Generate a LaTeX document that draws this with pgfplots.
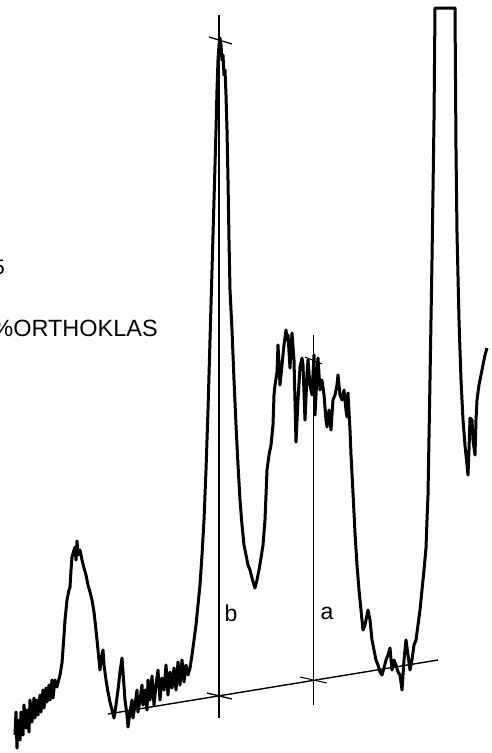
\documentclass[border=0pt]{standalone}
\usepackage{pgfplots}
\pgfplotsset{compat=1.18}
\usepackage{fontspec}
\setmainfont{Liberation Sans}
\begin{document}
\begin{tikzpicture}
\begin{axis}[scale only axis, width=492pt, height=753pt,
  xmin=0, xmax=492, ymin=0, ymax=753, y dir=reverse,
  hide axis, clip=false]
% trace
\addplot[black, line width=3pt, line join=round] coordinates {
(15,735)(16,712)(17,748)(18,720)(20,740)(21,712)(23,735)(24,705)(26,728)(27,710)(29,732)(30,700)(32,722)(34,698)(35,718)(37,700)(38,715)(40,695)(41,712)(43,690)(44,708)(46,688)(47,702)(49,685)(50,700)(52,680)(53,698)(55,680)(57,687)(60,675)(62,663)(64,635)(65,620)(67,600)(69,590)(70,587)(71,570)(72,557)(74,550)(75,547)(76,560)(77,541)(78,555)(80,550)(82,560)(84,568)(86,575)(88,585)(90,592)(92,600)(94,612)(96,630)(98,650)(100,670)(101,660)(103,650)(104,665)(106,680)(108,692)(110,702)(112,710)(114,718)(116,705)(118,690)(120,672)(122,658)(123,672)(125,700)(127,715)(128,727)(130,712)(132,700)(133,718)(135,705)(137,690)(138,712)(140,700)(142,685)(143,705)(145,690)(147,710)(148,680)(150,700)(152,676)(154,705)(156,685)(158,670)(160,700)(162,678)(164,690)(166,665)(168,695)(170,672)(172,688)(174,668)(176,690)(178,662)(180,685)(182,660)(184,682)(186,665)(188,675)(190,668)(192,655)(194,640)(196,625)(198,605)(200,585)(202,555)(204,520)(206,470)(208,410)(210,340)(212,270)(214,200)(216,130)(217,90)(218,60)(219,45)(220,38)(221,45)(222,60)(223,55)(224,75)(225,70)(226,95)(227,130)(228,180)(229,240)(230,290)(232,330)(234,380)(236,425)(238,465)(240,500)(242,525)(244,545)(246,555)(248,565)(250,570)(252,578)(254,585)(255,588)(257,580)(259,570)(261,558)(263,545)(265,520)(266,495)(267,470)(269,455)(271,445)(273,425)(274,395)(275,385)(277,372)(278,345)(280,385)(282,365)(284,345)(286,330)(287,340)(288,335)(290,368)(292,333)(294,360)(296,442)(298,400)(300,367)(302,358)(303,365)(305,420)(307,375)(308,360)(310,385)(312,395)(314,355)(315,415)(317,375)(318,358)(320,390)(322,380)(324,395)(326,420)(327,427)(329,410)(331,430)(333,400)(335,395)(337,385)(338,375)(340,395)(342,400)(344,390)(346,410)(347,417)(348,393)(350,430)(351,455)(353,493)(355,533)(357,565)(359,590)(361,610)(363,630)(365,625)(368,610)(370,620)(372,640)(374,650)(376,660)(378,665)(380,672)(382,675)(384,668)(386,660)(388,655)(390,648)(392,670)(394,660)(396,665)(398,672)(400,675)(402,690)(404,660)(406,640)(408,655)(410,670)(412,660)(414,645)(416,640)(418,625)(420,610)(422,590)(424,570)(426,548)(427,520)(428,495)(430,380)(432,260)(434,120)(435,8)(455,8)(456,150)(457,233)(459,320)(461,380)(463,420)(465,445)(467,465)(468,475)(469,450)(470,418)(472,420)(473,440)(475,455)(476,420)(477,400)(479,385)(481,375)(483,365)(485,355)(487,348)
};
% baseline
\addplot[black, line width=1.4pt] coordinates {(108,714)(438,660)};
% vertical b
\addplot[black, line width=1.3pt] coordinates {(219,15)(219,718)};
\addplot[black, line width=1.3pt] coordinates {(209,37)(232,44)};
\addplot[black, line width=1.3pt] coordinates {(207,693)(232,699)};
% vertical a
\addplot[black, line width=1pt] coordinates {(313,335)(313,705)};
\addplot[black, line width=1pt] coordinates {(305,357)(322,364)};
\addplot[black, line width=1pt] coordinates {(300,677)(327,683)};
% labels
\node[anchor=center, font=\fontsize{23}{26}\selectfont] at (axis cs:231,613) {b};
\node[anchor=center, font=\fontsize{23}{26}\selectfont] at (axis cs:327,613) {a};
\node[anchor=east, inner sep=0pt, font=\fontsize{21}{24}\selectfont] at (axis cs:5,267) {5};
\node[anchor=east, inner sep=0pt, font=\fontsize{23.5}{26}\selectfont] at (axis cs:158,328) {\%ORTHOKLAS};
\end{axis}
\pgfresetboundingbox
\useasboundingbox (0,0) rectangle (492pt,753pt);
\end{tikzpicture}
\end{document}
